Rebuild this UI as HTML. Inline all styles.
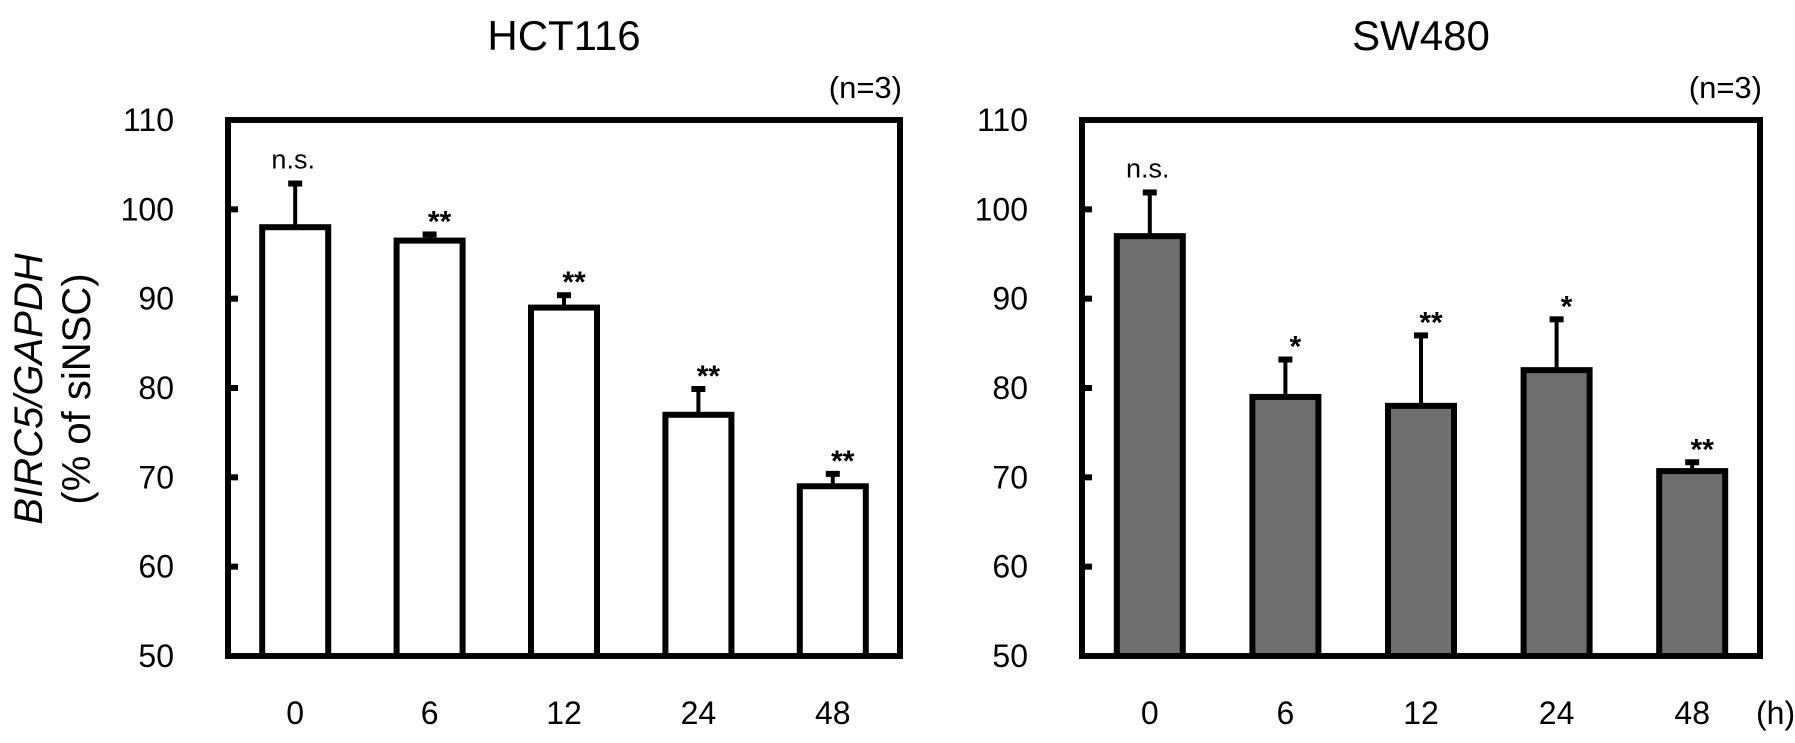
<!DOCTYPE html>
<html><head><meta charset="utf-8"><style>
html,body{margin:0;padding:0;background:#fff;}
svg{display:block;font-family:"Liberation Sans",Arial,sans-serif;}
</style></head><body>
<svg id="chart" width="1795" height="743" viewBox="0 0 1795 743" xmlns="http://www.w3.org/2000/svg">
<g transform="translate(0,389) rotate(-90)">
<text x="0" y="42" text-anchor="middle" font-size="40" font-style="italic">BIRC5/GAPDH</text>
<text x="0" y="90" text-anchor="middle" font-size="40">(% of siNSC)</text>
</g>
</svg>
<script>
const categories = ["0","6","12","24","48"];
const hctValues = [98, 96.5, 89, 77, 69];
const hctErrTop = [103, 97.3, 90.5, 80, 70.5];
const hctSig = ["n.s.","**","**","**","**"];
const swValues = [97, 79, 78, 82, 70.7];
const swErrTop = [102, 83.3, 86, 87.8, 71.8];
const swSig = ["n.s.","*","**","*","**"];
const yTicks = [50,60,70,80,90,100,110];

const NS = "http://www.w3.org/2000/svg";
const svg = document.getElementById('chart');
function mk(tag, attrs, parent){
  const e = document.createElementNS(NS, tag);
  for (const k in attrs) e.setAttribute(k, attrs[k]);
  (parent||svg).appendChild(e);
  return e;
}
function panel(name, x0, x1, vals, errs, sig, fill, title, showH){
  const top=120, bot=656, yMin=50, yMax=110;
  const y = v => bot - (v - yMin) / (yMax - yMin) * (bot - top);
  const step = (x1 - x0) / categories.length;
  const xc = i => x0 + step * (i + 0.5);
  const g = mk('g', {});
  
  
  const t = mk('text', {x:(x0+x1)/2, y:50, 'text-anchor':'middle', 'font-size':42}, g);
  t.textContent = title;
  
  
  const n = mk('text', {x:x1+2, y:98, 'text-anchor':'end', 'font-size':31}, g);
  n.textContent = '(n=3)';
  
  
  yTicks.forEach(v => {
    const tk = mk('line', {x1:x0, x2:x0+10, y1:y(v), y2:y(v), stroke:'#000', 'stroke-width':6}, g);
    
    
    const tl = mk('text', {x:x0-54, y:y(v)+11, 'text-anchor':'end', 'font-size':32}, g);
    tl.textContent = v;
    
    
  });
  const bw = 66;
  vals.forEach((v, i) => {
    const cx = xc(i);
    const el = mk('line', {x1:cx, x2:cx, y1:y(errs[i]), y2:y(v), stroke:'#000', 'stroke-width':4}, g);
    
    
    const cap = mk('line', {x1:cx-7, x2:cx+7, y1:y(errs[i])+1, y2:y(errs[i])+1, stroke:'#000', 'stroke-width':6}, g);
    
    
    const b = mk('rect', {x:cx-bw/2, y:y(v), width:bw, height:bot-y(v), fill:fill, stroke:'#000', 'stroke-width':6}, g);
    
    
    const isNs = sig[i] === 'n.s.';
    const s = mk('text', {x:cx + (isNs ? -2 : 10), y:y(errs[i]) - (isNs ? 14 : 2), 'text-anchor':'middle', 'font-size': isNs ? 27 : 30, 'font-weight': isNs ? 'normal' : 'bold'}, g);
    s.textContent = sig[i];
    
    
    const xl = mk('text', {x:cx, y:724, 'text-anchor':'middle', 'font-size':32}, g);
    xl.textContent = categories[i];
    
    
  });
  const box = mk('rect', {x:x0, y:top, width:x1-x0, height:bot-top, fill:'none', stroke:'#000', 'stroke-width':6}, g);
  
  
  if (showH){
    const h = mk('text', {x:x1-4, y:724, 'text-anchor':'start', 'font-size':32}, g);
    h.textContent = '(h)';
    
    
  }
}
panel('hct116', 228, 900, hctValues, hctErrTop, hctSig, '#fff', 'HCT116', false);
panel('sw480', 1082, 1760, swValues, swErrTop, swSig, '#6e6e6e', 'SW480', true);
</script>
</body></html>
